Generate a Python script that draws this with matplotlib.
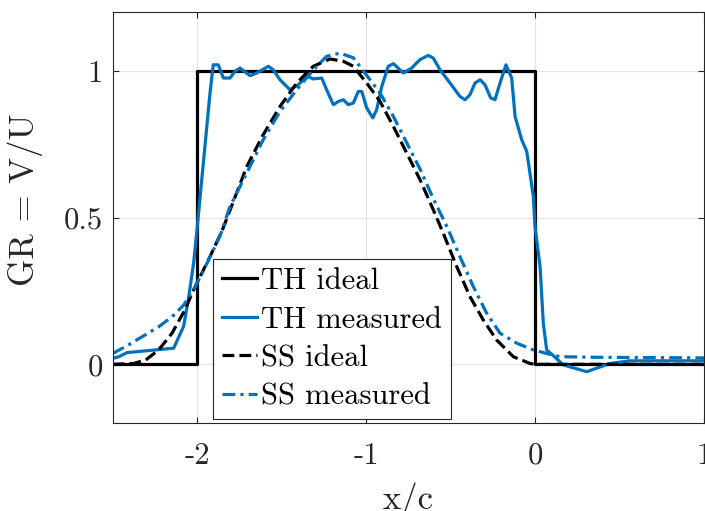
import numpy as np
import matplotlib
matplotlib.use('Agg')
import matplotlib.pyplot as plt

# Computer Modern look (matplotlib ships cmr10)
plt.rcParams['font.family'] = ['cmr10', 'DejaVu Serif']
plt.rcParams['mathtext.fontset'] = 'cm'
plt.rcParams['axes.unicode_minus'] = False

BLUE = '#0072BD'
DARK = '#262626'

# ---- data ----
th_ideal_x = [-2.5, -2.0, -2.0, 0.0, 0.0, 1.0]
th_ideal_y = [0.0, 0.0, 1.0, 1.0, 0.0, 0.0]

th_meas_x = [-2.5, -2.462, -2.414, -2.138, -2.079, -2.049, -2.020, -2.0, -1.923,
             -1.904, -1.874, -1.844, -1.805, -1.775, -1.746, -1.686, -1.647,
             -1.578, -1.549, -1.509, -1.450, -1.401, -1.351, -1.312, -1.262,
             -1.233, -1.193, -1.164, -1.134, -1.105, -1.075, -1.046, -1.025,
             -0.996, -0.960, -0.937, -0.907, -0.868, -0.838, -0.779, -0.730,
             -0.680, -0.631, -0.602, -0.562, -0.503, -0.444, -0.414, -0.385,
             -0.355, -0.325, -0.296, -0.262, -0.237, -0.207, -0.172, -0.138,
             -0.118, -0.079, -0.049, -0.030, -0.010, 0.0, 0.030, 0.049, 0.069,
             0.108, 0.167, 0.306, 0.444, 0.562, 1.0]
th_meas_y = [0.02, 0.026, 0.04, 0.055, 0.13, 0.23, 0.345, 0.46, 0.925,
             1.021, 1.021, 0.976, 0.976, 0.999, 1.010, 0.984, 0.993,
             1.016, 1.004, 0.970, 0.936, 0.953, 0.982, 0.973, 0.976,
             0.936, 0.885, 0.896, 0.902, 0.885, 0.891, 0.930, 0.930,
             0.874, 0.840, 0.868, 0.947, 1.016, 1.025, 0.993, 1.010,
             1.039, 1.053, 1.044, 1.004, 0.959, 0.913, 0.902, 0.919,
             0.959, 0.970, 0.953, 0.908, 0.902, 0.959, 1.021, 0.976,
             0.845, 0.766, 0.726, 0.652, 0.572, 0.47, 0.333, 0.14, 0.049,
             0.03, -0.002, -0.025, 0.003, 0.012, 0.012]

ss_ideal_x = [-2.5, -2.375, -2.303, -2.227, -2.148, -2.077, -2.007, -1.929,
              -1.852, -1.785, -1.706, -1.608, -1.509, -1.410, -1.312, -1.213,
              -1.134, -1.075, -0.996, -0.917, -0.838, -0.759, -0.680, -0.602,
              -0.543, -0.463, -0.385, -0.306, -0.227, -0.128, -0.030, 0.0, 1.0]
ss_ideal_y = [0.0, 0.003, 0.015, 0.049, 0.106, 0.18, 0.27, 0.36,
              0.455, 0.555, 0.674, 0.783, 0.879, 0.959, 1.016, 1.041,
              1.033, 1.016, 0.959, 0.896, 0.811, 0.720, 0.629, 0.527,
              0.447, 0.333, 0.231, 0.151, 0.083, 0.026, 0.003, 0.0, 0.0]

ss_meas_x = [-2.5, -2.424, -2.325, -2.227, -2.148, -2.079, -2.010, -1.931,
             -1.862, -1.805, -1.706, -1.608, -1.509, -1.410, -1.312, -1.233,
             -1.154, -1.075, -0.996, -0.917, -0.838, -0.759, -0.680, -0.602,
             -0.522, -0.444, -0.365, -0.286, -0.207, -0.108, -0.010, 0.069,
             0.148, 0.365, 1.0]
ss_meas_y = [0.037, 0.06, 0.094, 0.128, 0.162, 0.202, 0.265, 0.356,
             0.44, 0.538, 0.652, 0.766, 0.862, 0.936, 1.004, 1.050,
             1.061, 1.045, 0.985, 0.925, 0.845, 0.755, 0.665, 0.565,
             0.47, 0.367, 0.265, 0.174, 0.106, 0.072, 0.049, 0.037,
             0.026, 0.024, 0.022]

xticks = [-2, -1, 0, 1]
xtick_labels = ['-2', '-1', '0', '1']
yticks = [0, 0.5, 1]
ytick_labels = ['0', '0.5', '1']

fig = plt.figure(figsize=(7.05, 5.11), dpi=100)
ax = fig.add_axes([0.1596, 0.1722, 0.8390, 0.8037])

ax.plot(th_ideal_x, th_ideal_y, '-', color='black', lw=2.3, label='TH ideal')
ax.plot(th_meas_x, th_meas_y, '-', color=BLUE, lw=2.3, label='TH measured')
ax.plot(ss_ideal_x, ss_ideal_y, '--', color='black', lw=2.3, label='SS ideal')
ax.plot(ss_meas_x, ss_meas_y, '-.', color=BLUE, lw=2.3, label='SS measured',
        dashes=(4.0, 1.6, 1.0, 1.6))

ax.set_xlim(-2.5, 1)
ax.set_ylim(-0.2, 1.2)
ax.set_xticks(xticks)
ax.set_xticklabels(xtick_labels)
ax.set_yticks(yticks)
ax.set_yticklabels(ytick_labels)
ax.grid(True, color='#e3e3e3', lw=0.8)
ax.set_axisbelow(True)

for sp in ax.spines.values():
    sp.set_color(DARK)
    sp.set_linewidth(0.8)
ax.tick_params(direction='in', length=4.5, width=0.8, colors=DARK,
               top=True, right=True, labelsize=22)
ax.tick_params(axis='x', pad=14)
ax.tick_params(axis='y', pad=7)

ax.set_xlabel('x/c', fontsize=25, color=DARK)
ax.set_ylabel('GR = V/U', fontsize=25, color=DARK)
ax.xaxis.set_label_coords(0.5, -0.145)
ax.yaxis.set_label_coords(-0.118, 0.543)

leg = ax.legend(loc='lower left', bbox_to_anchor=(0.170, 0.0097),
                borderaxespad=0, fontsize=22, handlelength=1.15,
                handletextpad=0.15, labelspacing=0.36, borderpad=0.28,
                fancybox=False, framealpha=1, edgecolor=DARK)
leg.get_frame().set_linewidth(0.8)

fig.savefig('out.png', dpi=100)
